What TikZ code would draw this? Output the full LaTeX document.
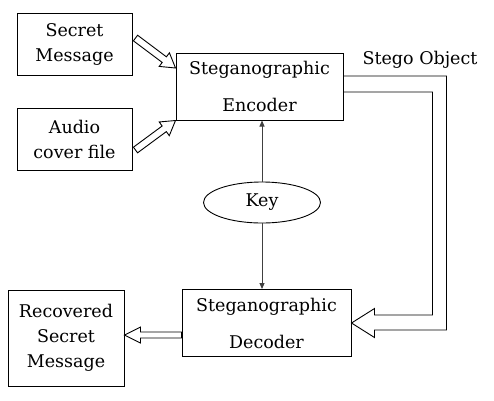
\documentclass[tikz,border=0pt]{standalone}
\usepackage{fontspec}
\setmainfont{DejaVu Serif}
\usetikzlibrary{arrows.meta,shapes.geometric,calc}

\tikzstyle{box} = [draw, line width=1pt, align=center, inner sep=0pt, font=\fontsize{17.5}{25}\selectfont]
\tikzstyle{key} = [draw, ellipse, line width=0.9pt, minimum width=117pt, minimum height=41pt, inner sep=0pt, font=\fontsize{17.5}{25}\selectfont]
\tikzstyle{key edge} = [draw, line width=0.9pt, black!75, -{Triangle[length=6pt,width=5pt]}]
\tikzstyle{hollow edge} = [draw, line width=0.9pt, fill=white, line join=miter]

% hollow block arrow: start, end, shaft half width, head half width, head length
\newcommand{\blockarrow}[5]{%
  \coordinate (head) at ($(#2)!#5!(#1)$);
  \path[hollow edge] ($(#1)!#3!90:(#2)$) -- ($(head)!#3!-90:(#1)$) -- ($(head)!#4!-90:(#1)$)
     -- (#2) -- ($(head)!#4!90:(#1)$) -- ($(head)!#3!90:(#1)$) -- ($(#1)!#3!-90:(#2)$) -- cycle;
}

\begin{document}
\begin{tikzpicture}[x=1pt,y=-1pt]
       \useasboundingbox (0,0) rectangle (494,400);
       \node[box, minimum width=115pt, minimum height=62pt] (secret) at (74.5,44) {Secret\\Message};
       \node[box, minimum width=115pt, minimum height=62pt] (audio) at (74.5,139) {Audio\\cover file};
       \node[box, minimum width=167pt, minimum height=67pt] (enc) at (259.5,86.5) {Steganographic\\[12pt]Encoder};
       \node[key] (key) at (262,202.5) {Key};
       \node[box, minimum width=169pt, minimum height=67pt] (dec) at (266.5,323) {Steganographic\\[12pt]Decoder};
       \node[box, minimum width=116pt, minimum height=96pt] (rec) at (66,338) {Recovered\\Secret\\Message};
       \node[font=\fontsize{17.5}{25}\selectfont] (stego) at (420,60) {Stego Object};

       % inputs and output
       \coordinate (secret out) at ([xshift=3pt,yshift=6pt]secret.east);
       \coordinate (enc in a) at ([yshift=18.5pt]enc.west);
       \coordinate (audio out) at ([xshift=3pt,yshift=-11pt]audio.east);
       \coordinate (dec out) at ([yshift=-12pt]dec.west);
       \coordinate (rec in) at ([yshift=3pt]rec.east);
       \blockarrow{secret out}{enc in a}{3.5pt}{8.5pt}{14pt}
       \blockarrow{audio out}{enc.south west}{3.5pt}{8.5pt}{14pt}
       \blockarrow{dec out}{rec in}{3pt}{8pt}{16pt}

       % key
       \path[key edge] (key) -- (key |- enc.south);
       \path[key edge] (key) -- (key |- dec.north);

       % stego object channel
       \path[hollow edge, fill=none] ([yshift=10.5pt]enc.east) -- ++(103,0) |- ([xshift=23pt,yshift=-7pt]dec.east)
           -- ([xshift=23pt,yshift=-14.5pt]dec.east) -- (dec.east) -- ([xshift=23pt,yshift=14.5pt]dec.east)
           -- ([xshift=23pt,yshift=8pt]dec.east) -| ($(enc.east)+(89,5.5)$) -- ([yshift=-5.5pt]enc.east);
\end{tikzpicture}
\end{document}
